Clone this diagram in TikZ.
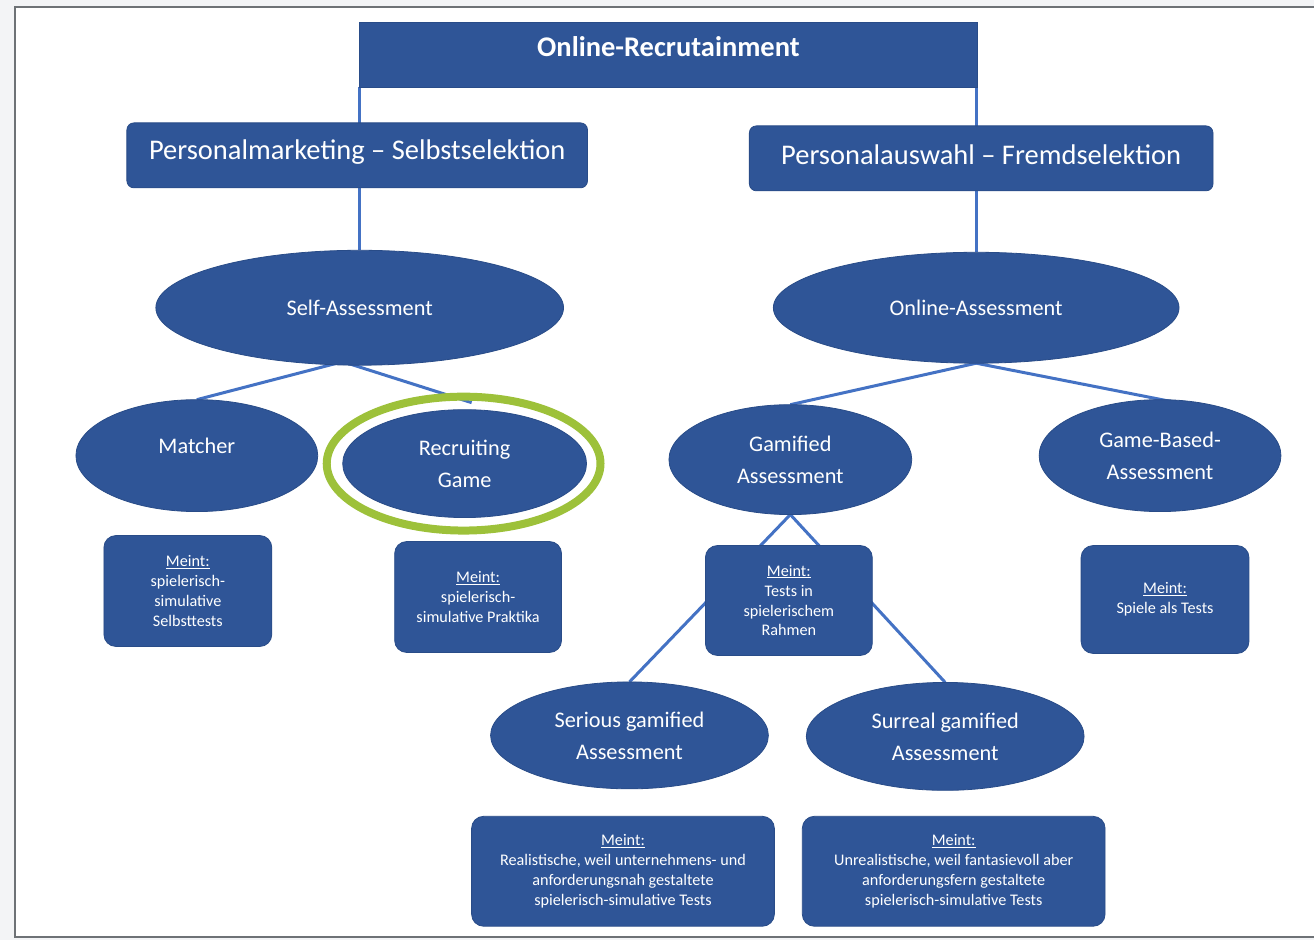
\documentclass[tikz,border=0pt]{standalone}
\usepackage{fontspec}
\setmainfont{Carlito}
\usetikzlibrary{shapes.geometric,backgrounds}
\definecolor{fillblue}{HTML}{2F5597}
\definecolor{edgeblue}{HTML}{294C88}
\definecolor{lineblue}{HTML}{4472C4}
\definecolor{ringgreen}{HTML}{9DC13A}
\definecolor{framegray}{HTML}{6E7276}
\definecolor{outbg}{HTML}{F3F4F6}
\begin{document}
\begin{tikzpicture}[x=1pt,y=-1pt,
  ell/.style={ellipse, fill=fillblue, draw=edgeblue, line width=0.8pt, inner sep=0pt, outer sep=0pt, text=white, align=center, font=\fontsize{22.3}{32}\selectfont},
  hbox/.style={rectangle, rounded corners=7pt, fill=fillblue, draw=edgeblue, line width=0.8pt, inner sep=0pt, outer sep=0pt},
  htext/.style={text=white, inner sep=0pt, font=\fontsize{28.5}{32}\selectfont},
  meint/.style={rectangle, rounded corners=12pt, fill=fillblue, draw=edgeblue, line width=0.8pt, inner sep=0pt, outer sep=0pt, text=white, align=center, font=\fontsize{16.2}{20}\selectfont},
  conn/.style={draw=lineblue, line width=3pt},
  ring/.style={ellipse, draw=ringgreen, line width=8pt, inner sep=0pt, outer sep=0pt}
]
% header boxes
\node[hbox, rounded corners=0pt, minimum width=618pt, minimum height=65pt] (top) at (669,54.5) {};
\node[htext, font=\fontsize{28.5}{32}\selectfont\bfseries] (topT) at (669,47) {Online-Recrutainment};
\node[hbox, minimum width=461pt, minimum height=65pt] (pm) at (357.5,155.5) {};
\node[htext] (pmT) at (357.5,152) {Personalmarketing – Selbstselektion};
\node[hbox, minimum width=464pt, minimum height=65pt] (pa) at (982,158.5) {};
\node[htext] (paT) at (982,155) {Personalauswahl – Fremdselektion};

% assessment ellipses
\node[ell, minimum width=408pt, minimum height=115pt] (sa) at (360,308) {Self-Assessment};
\node[ell, minimum width=406pt, minimum height=111pt] (oa) at (977,308) {Online-Assessment};

\node[ell, minimum width=242pt, minimum height=112pt] (m) at (197,456) {\raisebox{10pt}[\height][\depth]{Matcher}};
\node[ell, minimum width=244pt, minimum height=108pt] (rg) at (465,464) {Recruiting\\Game};
\node[ring, minimum width=274pt, minimum height=134pt] (rring) at (464,464) {};
\node[ell, minimum width=243pt, minimum height=110pt] (gam) at (791,460) {Gamified\\Assessment};
\node[ell, minimum width=242pt, minimum height=112pt] (gb) at (1161,456) {Game-Based-\\Assessment};
\node[ell, minimum width=278pt, minimum height=107pt] (ser) at (630,736) {Serious gamified\\Assessment};
\node[ell, minimum width=278pt, minimum height=108pt] (sur) at (946,737) {Surreal gamified\\Assessment};

% Meint boxes
\node[meint, minimum width=168pt, minimum height=111pt] (mm) at (188,591.5) {\underline{Meint:}\\spielerisch-\\simulative\\Selbsttests};
\node[meint, minimum width=167pt, minimum height=111pt] (mrg) at (478.5,597.5) {\underline{Meint:}\\spielerisch-\\simulative Praktika};
\node[meint, minimum width=167pt, minimum height=110pt] (mgam) at (789.5,601) {\underline{Meint:}\\Tests in\\spielerischem\\Rahmen};
\node[meint, minimum width=168pt, minimum height=108pt] (mgb) at (1166,600) {\underline{Meint:}\\Spiele als Tests};
\node[meint, minimum width=303pt, minimum height=110pt] (mser) at (623.5,872) {\underline{Meint:}\\Realistische, weil unternehmens- und\\anforderungsnah gestaltete\\spielerisch-simulative Tests};
\node[meint, minimum width=303pt, minimum height=110pt] (msur) at (954.5,872) {\underline{Meint:}\\Unrealistische, weil fantasievoll aber\\anforderungsfern gestaltete\\spielerisch-simulative Tests};

% free ends of connectors
\coordinate (saB) at (343,362);
\coordinate (rgT) at (472,403);
\coordinate (gbT) at (1173,402);

\begin{pgfonlayer}{background}
% page background and frame
\fill[outbg] (0,0) rectangle (1315,941);
\fill[white] (15,7) rectangle (1315,938);
\draw[framegray, line width=2.2pt] (1315,7) -- (15,7) -- (15,938) -- (1315,938);
% connectors
\draw[conn] (top.south west -| sa.north) -- (sa.north);
\draw[conn] (top.south east -| oa.north) -- (oa.north);
\draw[conn] (saB) -- (m.north);
\draw[conn] (saB) -- (rgT);
\draw[conn] (oa.south) -- (gam.north);
\draw[conn] (oa.south) -- (gbT);
\draw[conn] (gam.south) -- (ser.north);
\draw[conn] (gam.south) -- (sur.north);
\end{pgfonlayer}
\end{tikzpicture}
\end{document}
